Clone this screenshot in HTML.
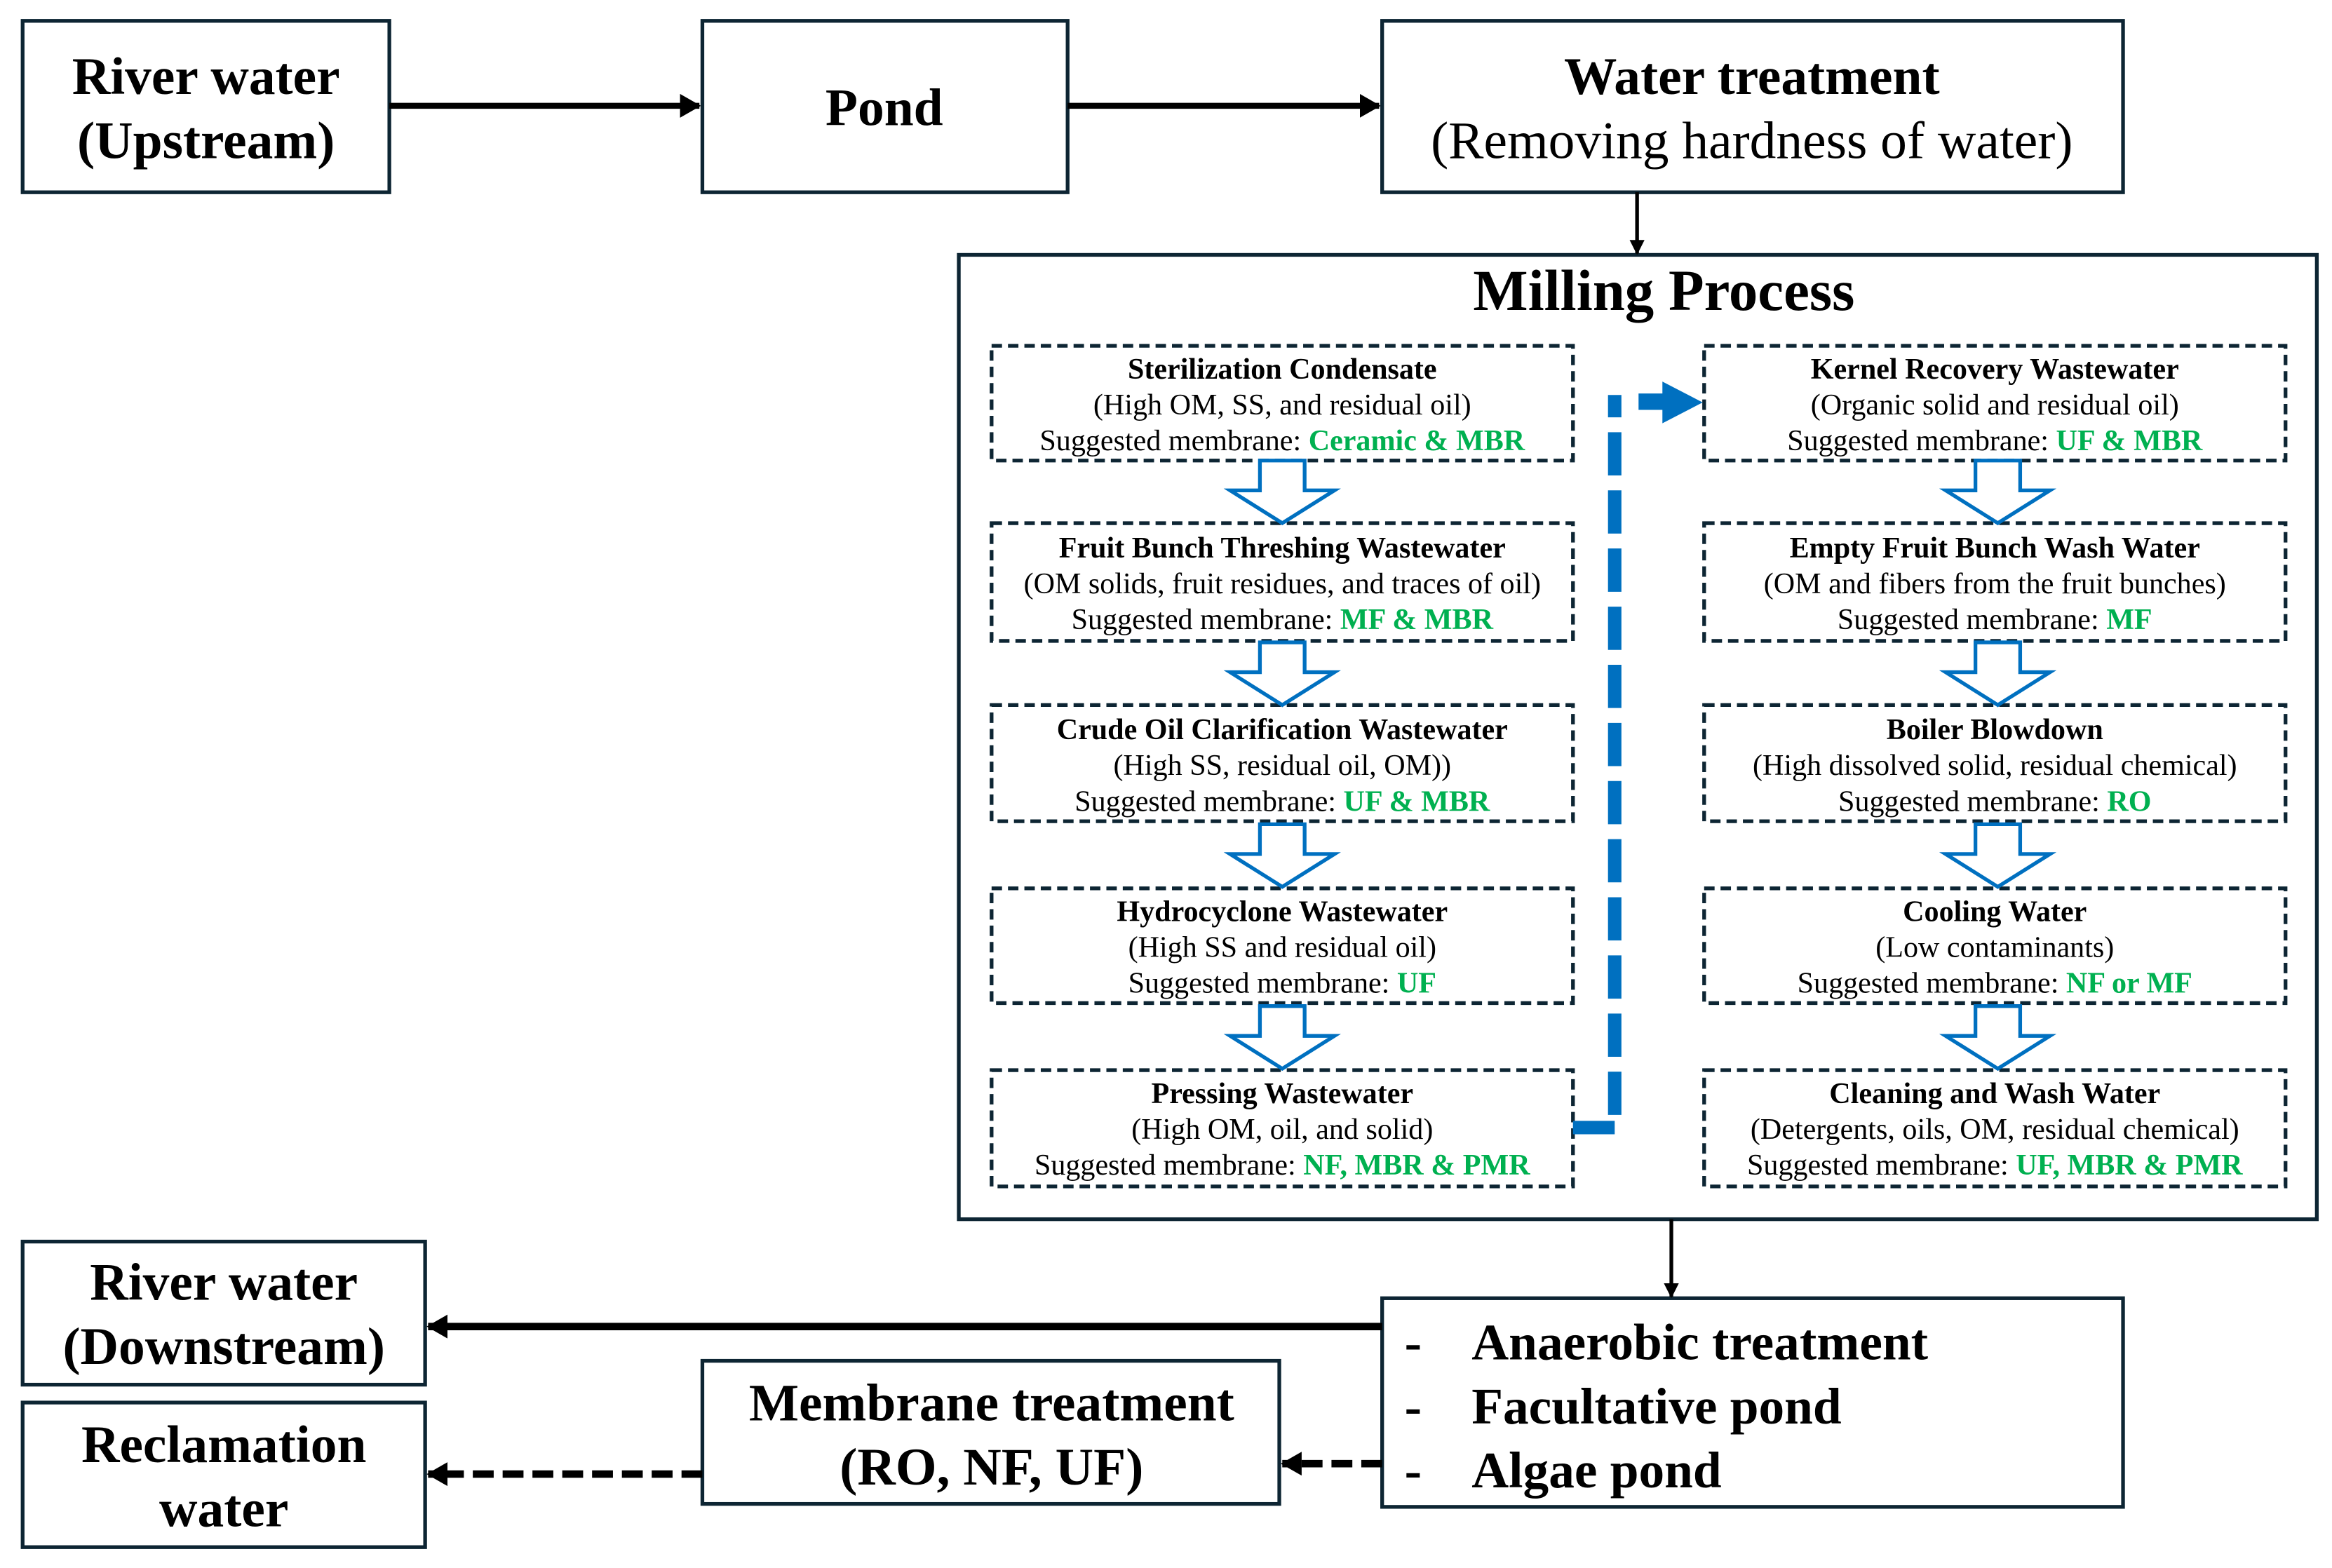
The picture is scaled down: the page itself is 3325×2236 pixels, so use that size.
<!DOCTYPE html>
<html><head><meta charset="utf-8"><style>html,body{margin:0;padding:0;background:#fff}svg{display:block}</style></head>
<body>
<svg width="3325" height="2236" viewBox="0 0 1564 1052" xmlns="http://www.w3.org/2000/svg" font-family="'Liberation Serif', serif">
<defs>
<marker id="ah" markerWidth="10" markerHeight="10" refX="9" refY="5" orient="auto" markerUnits="userSpaceOnUse"><path d="M0,0 L10,5 L0,10 Z" fill="#000"/></marker>
<marker id="ah2" markerWidth="14" markerHeight="16" refX="13" refY="8" orient="auto" markerUnits="userSpaceOnUse"><path d="M0,0 L14,8 L0,16 Z" fill="#000"/></marker>
<g id="hollow"><path d="M-15,0 L15,0 L15,20 L35,20 L0,42 L-35,20 L-15,20 Z" fill="#fff" stroke="#0070c0" stroke-width="2.5"/></g>
</defs>
<g fill="#fff" stroke="#0d2533" stroke-width="2.5">
<rect x="15" y="14" width="246" height="115"/>
<rect x="471" y="14" width="245" height="115"/>
<rect x="927" y="14" width="497" height="115"/>
<rect x="643" y="171" width="911" height="647"/>
<rect x="927" y="871" width="497" height="140"/>
<rect x="15" y="833" width="270" height="96"/>
<rect x="15" y="941" width="270" height="97"/>
<rect x="471" y="913" width="387" height="96"/>
</g>
<g stroke="#000" fill="none">
<line x1="261" y1="71" x2="469" y2="71" stroke-width="4" marker-end="url(#ah2)"/>
<line x1="716" y1="71" x2="925" y2="71" stroke-width="4" marker-end="url(#ah2)"/>
<line x1="1098" y1="129" x2="1098" y2="170" stroke-width="2.5" marker-end="url(#ah)"/>
<line x1="1121" y1="818" x2="1121" y2="870" stroke-width="2.5" marker-end="url(#ah)"/>
<line x1="927" y1="890" x2="287" y2="890" stroke-width="5" marker-end="url(#ah2)"/>
<line x1="471" y1="989" x2="287" y2="989" stroke-width="5" stroke-dasharray="14,6" marker-end="url(#ah2)"/>
<line x1="927" y1="982" x2="860" y2="982" stroke-width="5" stroke-dasharray="14,6" marker-end="url(#ah2)"/>
</g>
<g fill="none" stroke="#0d2533" stroke-width="2.5" stroke-dasharray="7,4">
<rect x="665" y="232" width="390" height="77"/><rect x="1143" y="232" width="390" height="77"/>
<rect x="665" y="351" width="390" height="79"/><rect x="1143" y="351" width="390" height="79"/>
<rect x="665" y="473" width="390" height="78"/><rect x="1143" y="473" width="390" height="78"/>
<rect x="665" y="596" width="390" height="77"/><rect x="1143" y="596" width="390" height="77"/>
<rect x="665" y="718" width="390" height="78"/><rect x="1143" y="718" width="390" height="78"/>
</g>
<use href="#hollow" x="860" y="309"/><use href="#hollow" x="1340" y="309"/>
<use href="#hollow" x="860" y="431"/><use href="#hollow" x="1340" y="431"/>
<use href="#hollow" x="860" y="553"/><use href="#hollow" x="1340" y="553"/>
<use href="#hollow" x="860" y="675"/><use href="#hollow" x="1340" y="675"/>
<line x1="1083" y1="748" x2="1083" y2="265" stroke="#0070c0" stroke-width="9" stroke-dasharray="29,10"/>
<rect x="1055" y="752" width="28" height="9" fill="#0070c0"/>
<path d="M1099,264 L1115,264 L1115,256 L1142,270 L1115,284 L1115,275 L1099,275 Z" fill="#0070c0"/>
<g font-weight="bold" font-size="35.5" text-anchor="middle" fill="#000">
<text x="138" y="63">River water</text><text x="138" y="106">(Upstream)</text>
<text x="593" y="84">Pond</text>
<text x="1175" y="63">Water treatment</text>
<text x="150" y="872">River water</text><text x="150" y="915">(Downstream)</text>
<text x="150" y="981">Reclamation</text><text x="150" y="1024">water</text>
<text x="665" y="953">Membrane treatment</text><text x="665" y="996">(RO, NF, UF)</text>
<text x="1116" y="208" font-size="39">Milling Process</text>
</g>
<text x="1175" y="106" font-size="35.5" text-anchor="middle">(Removing hardness of water)</text>
<g font-weight="bold" font-size="34.5" fill="#000">
<text x="942" y="912">-</text><text x="987" y="912">Anaerobic treatment</text>
<text x="942" y="955">-</text><text x="987" y="955">Facultative pond</text>
<text x="942" y="998">-</text><text x="987" y="998">Algae pond</text>
</g>
<g font-size="19.8" text-anchor="middle" fill="#000">
<text x="860" y="254" font-weight="bold">Sterilization Condensate</text>
<text x="860" y="278">(High OM, SS, and residual oil)</text>
<text x="860" y="302">Suggested membrane: <tspan fill="#00b050" font-weight="bold">Ceramic &amp; MBR</tspan></text>
<text x="860" y="374" font-weight="bold">Fruit Bunch Threshing Wastewater</text>
<text x="860" y="398">(OM solids, fruit residues, and traces of oil)</text>
<text x="860" y="422">Suggested membrane: <tspan fill="#00b050" font-weight="bold">MF &amp; MBR</tspan></text>
<text x="860" y="496" font-weight="bold">Crude Oil Clarification Wastewater</text>
<text x="860" y="520">(High SS, residual oil, OM))</text>
<text x="860" y="544">Suggested membrane: <tspan fill="#00b050" font-weight="bold">UF &amp; MBR</tspan></text>
<text x="860" y="618" font-weight="bold">Hydrocyclone Wastewater</text>
<text x="860" y="642">(High SS and residual oil)</text>
<text x="860" y="666">Suggested membrane: <tspan fill="#00b050" font-weight="bold">UF</tspan></text>
<text x="860" y="740" font-weight="bold">Pressing Wastewater</text>
<text x="860" y="764">(High OM, oil, and solid)</text>
<text x="860" y="788">Suggested membrane: <tspan fill="#00b050" font-weight="bold">NF, MBR &amp; PMR</tspan></text>
<text x="1338" y="254" font-weight="bold">Kernel Recovery Wastewater</text>
<text x="1338" y="278">(Organic solid and residual oil)</text>
<text x="1338" y="302">Suggested membrane: <tspan fill="#00b050" font-weight="bold">UF &amp; MBR</tspan></text>
<text x="1338" y="374" font-weight="bold">Empty Fruit Bunch Wash Water</text>
<text x="1338" y="398">(OM and fibers from the fruit bunches)</text>
<text x="1338" y="422">Suggested membrane: <tspan fill="#00b050" font-weight="bold">MF</tspan></text>
<text x="1338" y="496" font-weight="bold">Boiler Blowdown</text>
<text x="1338" y="520">(High dissolved solid, residual chemical)</text>
<text x="1338" y="544">Suggested membrane: <tspan fill="#00b050" font-weight="bold">RO</tspan></text>
<text x="1338" y="618" font-weight="bold">Cooling Water</text>
<text x="1338" y="642">(Low contaminants)</text>
<text x="1338" y="666">Suggested membrane: <tspan fill="#00b050" font-weight="bold">NF or MF</tspan></text>
<text x="1338" y="740" font-weight="bold">Cleaning and Wash Water</text>
<text x="1338" y="764">(Detergents, oils, OM, residual chemical)</text>
<text x="1338" y="788">Suggested membrane: <tspan fill="#00b050" font-weight="bold">UF, MBR &amp; PMR</tspan></text>
</g>
</svg>
</body></html>
